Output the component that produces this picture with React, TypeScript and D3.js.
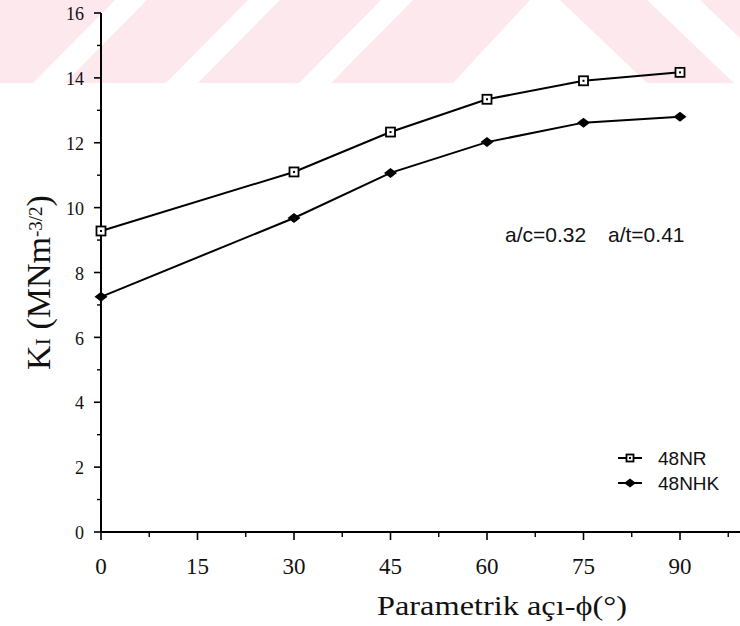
import React from "react";
import * as d3 from "d3";

// Parametric angle (degrees) and stress intensity factor values
const angles = [0, 30, 45, 60, 75, 90];
const seriesNR = [9.28, 11.1, 12.33, 13.34, 13.91, 14.17];
const seriesNHK = [7.25, 9.68, 11.07, 12.02, 12.62, 12.8];
const seriesNames = ["48NR", "48NHK"];
const xTickValues = [0, 15, 30, 45, 60, 75, 90];
const yTickValues = [0, 2, 4, 6, 8, 10, 12, 14, 16];
const annotation = ["a/c=0.32", "a/t=0.41"];

const W = 740;
const H = 626;
const SERIF = "'Liberation Serif', 'Times New Roman', serif";
const SANS = "'Liberation Sans', Arial, sans-serif";
const PINK = "#fce8ed";

export default function App() {
  const x = d3.scaleLinear().domain([0, 90]).range([101, 680]);
  const y = d3.scaleLinear().domain([0, 16]).range([532, 13]);

  const line = d3
    .line<number>()
    .x((_, i) => x(angles[i]))
    .y((v) => y(v));

  const xMinor = d3.range(0, 100, 7.5).filter((v) => v % 15 !== 0);
  const yMinor = d3.range(1, 16, 2);

  const square = (cx: number, cy: number, s: number, key: string) => (
    <g key={key}>
      <rect x={cx - s / 2} y={cy - s / 2} width={s} height={s} fill="#fff" stroke="#000" strokeWidth={1.8} />
      <rect x={cx - 1} y={cy - 1} width={2} height={2} fill="#000" />
    </g>
  );
  const diamond = (cx: number, cy: number, w: number, h: number, key: string) => (
    <path
      key={key}
      d={`M${cx - w / 2},${cy}L${cx},${cy - h / 2}L${cx + w / 2},${cy}L${cx},${cy + h / 2}Z`}
      fill="#000"
    />
  );

  // background band with diagonal white stripes
  const bandH = 83;
  const stripes: string[] = [];
  [115, 248, 381].forEach((a) => {
    stripes.push(`M${a},0L${a + 32},0L${a - 50},${bandH}L${a - 82},${bandH}Z`);
  });
  stripes.push(`M530,0L560,0L647,${bandH}L453,${bandH}Z`);
  stripes.push(`M647,0L700,0L787,${bandH}L734,${bandH}Z`);

  return (
    <svg
      width={W}
      height={H}
      viewBox={`0 0 ${W} ${H}`}
      style={{ position: "absolute", left: 0, top: 0, background: "#fff" }}
    >
      <rect x={0} y={0} width={W} height={H} fill="#fff" />
      <rect x={0} y={0} width={W} height={bandH} fill={PINK} />
      {stripes.map((d, i) => (
        <path key={i} d={d} fill="#fff" />
      ))}

      {/* axes */}
      <line x1={x(0)} x2={x(0)} y1={y(16)} y2={y(0)} stroke="#000" strokeWidth={2} />
      <line x1={x(0) - 1} x2={W} y1={y(0)} y2={y(0)} stroke="#000" strokeWidth={2} />

      {yTickValues.map((v) => (
        <g key={"yt" + v}>
          <line x1={x(0) - 7} x2={x(0)} y1={y(v)} y2={y(v)} stroke="#000" strokeWidth={1.6} />
          <text
            x={84}
            y={y(v) + 3}
            textAnchor="end"
            dominantBaseline="middle"
            fontFamily={SERIF}
            fontSize={18}
            fill="#111"
          >
            {v}
          </text>
        </g>
      ))}
      {yMinor.map((v) => (
        <line key={"ym" + v} x1={x(0) - 4} x2={x(0)} y1={y(v)} y2={y(v)} stroke="#000" strokeWidth={1.4} />
      ))}

      {xTickValues.map((v) => (
        <g key={"xt" + v}>
          <line x1={x(v)} x2={x(v)} y1={y(0)} y2={y(0) + 8} stroke="#000" strokeWidth={1.6} />
          <text x={x(v)} y={574} textAnchor="middle" fontFamily={SERIF} fontSize={23} fill="#111">
            {v}
          </text>
        </g>
      ))}
      {xMinor.map((v) => (
        <line key={"xm" + v} x1={x(v)} x2={x(v)} y1={y(0)} y2={y(0) + 5} stroke="#000" strokeWidth={1.4} />
      ))}

      {/* axis titles */}
      <text
        x={377}
        y={615}
        fontFamily={SERIF}
        fontSize={27}
        textLength={250}
        lengthAdjust="spacingAndGlyphs"
        fill="#111"
      >
        Parametrik açı-ϕ(°)
      </text>
      <text transform="translate(50,370) rotate(-90)" fontFamily={SERIF} fontSize={34} fill="#111">
        <tspan>K</tspan>
        <tspan fontSize={22}>I</tspan>
        <tspan> (MNm</tspan>
        <tspan fontSize={19} dy={-8}>-3/2</tspan>
        <tspan dy={8}>)</tspan>
      </text>

      {/* series lines */}
      <path d={line(seriesNR) || ""} fill="none" stroke="#000" strokeWidth={2} />
      <path d={line(seriesNHK) || ""} fill="none" stroke="#000" strokeWidth={2} />
      {seriesNR.map((v, i) => square(x(angles[i]), y(v), 9, "s" + i))}
      {seriesNHK.map((v, i) => diamond(x(angles[i]), y(v), 13, 10, "d" + i))}

      {/* annotation */}
      <text x={505} y={242} fontFamily={SANS} fontSize={21} fill="#111">
        {annotation[0]}
      </text>
      <text x={608} y={242} fontFamily={SANS} fontSize={21} fill="#111">
        {annotation[1]}
      </text>

      {/* legend */}
      <line x1={618} x2={642} y1={458} y2={458} stroke="#000" strokeWidth={2} />
      {square(630, 458, 7, "leg0")}
      <text x={658} y={465} fontFamily={SANS} fontSize={19} fill="#111">
        {seriesNames[0]}
      </text>
      <line x1={618} x2={642} y1={483} y2={483} stroke="#000" strokeWidth={2} />
      {diamond(630, 483, 12, 9, "leg1")}
      <text x={658} y={490} fontFamily={SANS} fontSize={19} fill="#111">
        {seriesNames[1]}
      </text>
    </svg>
  );
}
